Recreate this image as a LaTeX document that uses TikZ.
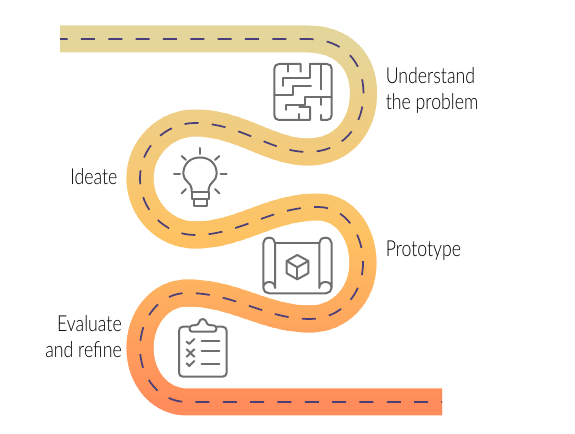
\documentclass[tikz,border=0pt]{standalone}
\usepackage{fontspec}
\setmainfont{Lato Light}[FakeStretch=0.806]
\definecolor{roadtop}{HTML}{E4D69B}
\definecolor{roadmid}{HTML}{FEC262}
\definecolor{roadend}{HTML}{FF8C5A}
\definecolor{dashcol}{HTML}{4B3F7A}
\definecolor{iconcol}{HTML}{6E6E6E}
\def\roadline{(60,39) -- (307,39) .. controls (344,39) and (363.5,62) .. (363.5,93)
 .. controls (363.5,129) and (340,152) .. (308,152) .. controls (270,152) and (240,123) .. (195,123)
 .. controls (165,123) and (140,148) .. (140,178) .. controls (140,210) and (165,235) .. (195,235)
 .. controls (240,235) and (270,207) .. (318,207) .. controls (345,207) and (363,233) .. (363,263)
 .. controls (363,295) and (340,319) .. (310,319) .. controls (265,319) and (235,293) .. (187,293)
 .. controls (160,293) and (140,318) .. (140,348) .. controls (140,378) and (160,402) .. (187,402)
 -- (442,402)}
\tikzset{
icon/.style={draw=iconcol, line width=1.5pt, line cap=round, line join=round},
lane/.style={draw=dashcol, line width=1.3pt, dash pattern=on 10.5pt off 10pt, dash phase=4.8pt},
caption/.style={inner sep=0, font=\fontsize{16.5}{19.5}\selectfont, text=black}}
\begin{document}
\begin{tikzpicture}[x=0.75pt, y=-0.75pt]
\useasboundingbox (0,0) rectangle (575,434);
% road, in thin bands for the colour
\foreach \y in {24,27,...,417} {
 \ifnum\y<235
  \pgfmathtruncatemacro{\pct}{max(0,(\y-39)/196*100)}
  \colorlet{bandcol}{roadmid!\pct!roadtop}
 \else
  \pgfmathtruncatemacro{\pct}{min(100,(\y-235)/167*100)}
  \colorlet{bandcol}{roadend!\pct!roadmid}
 \fi
 \begin{scope}
 \clip (0,\y) rectangle (575,\y+4);
 \draw [bandcol, line width=20.25pt] \roadline;
 \end{scope}
}
\draw [lane] \roadline;
% maze
\draw [icon] (300.7,71.7) -- (300.7,64) -- (279,64) .. controls (276,64) and (274.3,66) .. (274.3,69) -- (274.3,115) .. controls (274.3,118) and (276,120) .. (279,120) -- (310,120) -- (310,107) -- (299.3,107);
\draw [icon] (288.3,64) -- (288.3,71.7);
\draw [icon] (299.3,114) -- (299.3,120);
\draw [icon] (310,64) -- (327,64) .. controls (330,64) and (331.7,66) .. (331.7,69) -- (331.7,115) .. controls (331.7,118) and (330,120) .. (327,120) -- (321,120) -- (321,115);
\draw [icon] (310,64) -- (310,78.3) -- (282.7,78.3) -- (282.7,86);
\draw [icon] (321,64) -- (321,89.3);
\draw [icon] (311,86) -- (293.3,86) -- (293.3,95) -- (274.3,95);
\draw [icon] (331.7,97.3) -- (305,97.3) -- (305,105) -- (286,105) -- (286,110);
\draw [icon] (321,97.3) -- (321,105);
% bulb
\draw [icon] (191.7,191.7) -- (191.7,189) .. controls (191.7,183) and (183.3,181) .. (183.3,174) .. controls (183.3,164) and (190,157.5) .. (200,157.5) .. controls (210,157.5) and (216.7,164) .. (216.7,174) .. controls (216.7,181) and (208.7,183) .. (208.7,189) -- (208.7,191.7);
\draw [icon] (191.7,191.7) -- (208.7,191.7) -- (208.7,199) -- (206.7,199) -- (206.7,206) -- (194.3,206) -- (194.3,199) -- (191.7,199) -- cycle;
\draw [icon] (194.3,199) -- (206.7,199);
\foreach \a/\b/\c/\d in {200/148/200/154, 181.7/156/186/160, 174/174.3/180/174.3, 220.7/174.3/226.7/174.3, 215/160/219.3/156, 181.7/193.3/186/189, 215/189/219.3/193.3}
 \draw [icon] (\a,\b) -- (\c,\d);
% blueprint
\draw [icon] (263.3,288) -- (263.3,243) .. controls (263.3,240) and (266,237.7) .. (269.3,237.7) .. controls (272.5,237.7) and (275,240) .. (275,243) -- (275,288) .. controls (275,284) and (272.5,282) .. (269.3,282) .. controls (266,282) and (263.3,284) .. (263.3,288) .. controls (263.3,291) and (266,293.3) .. (269,293.3) -- (326,293.3) .. controls (329,293.3) and (331.5,291) .. (331.5,288) .. controls (331.5,284) and (329,282) .. (325.5,282) .. controls (322,282) and (319.3,284) .. (319.3,288) -- (319.3,243) .. controls (319.3,240) and (322,237.7) .. (325.5,237.7) .. controls (329,237.7) and (331.5,240) .. (331.5,243) -- (331.5,288);
\draw [icon] (275,243.3) -- (319.3,243.3);
\draw [icon] (297.3,255) -- (308.3,261) -- (308.3,273.3) -- (297.3,279.3) -- (286.7,273.3) -- (286.7,261) -- cycle;
\draw [icon] (286.7,261) -- (297.3,267.3) -- (308.3,261);
\draw [icon] (297.3,267.3) -- (297.3,279.3);
% clipboard
\draw [icon] (189,326.7) -- (183,326.7) .. controls (180.5,326.7) and (179,328.5) .. (179,331) -- (179,372.5) .. controls (179,375) and (180.5,376.7) .. (183,376.7) -- (222.5,376.7) .. controls (225,376.7) and (226.7,375) .. (226.7,372.5) -- (226.7,331) .. controls (226.7,328.5) and (225,326.7) .. (222.5,326.7) -- (216.7,326.7);
\draw [icon] (192,331.7) -- (214,331.7) .. controls (217,331.7) and (217.5,326) .. (214,325.5) -- (209,325) .. controls (206,325) and (207,319) .. (202.7,319) .. controls (198.5,319) and (199.5,325) .. (196.5,325) -- (192,325.5) .. controls (188.5,326) and (189,331.7) .. (192,331.7) -- cycle;
\foreach \y in {341.3,351.3,364}
 \draw [icon] (201.7,\y) -- (219.3,\y);
\draw [icon] (186.7,341.7) -- (189.3,344) -- (194.3,339);
\draw [icon] (186.7,349.3) -- (194.3,356.7);
\draw [icon] (194.3,349.3) -- (186.7,356.7);
\draw [icon] (186.7,363.3) -- (189.3,366) -- (194.3,361);
% labels
\node [caption, align=left, anchor=west] (understand) at (385.5,90) {Understand\\the problem};
\node [caption, anchor=west] (ideate) at (70,177) {Ideate};
\node [caption, anchor=west] (prototype) at (385.5,250.5) {Prototype};
\node [caption, align=right, anchor=east] (evaluate) at (122,337) {Evaluate\\and refine};
\end{tikzpicture}
\end{document}
